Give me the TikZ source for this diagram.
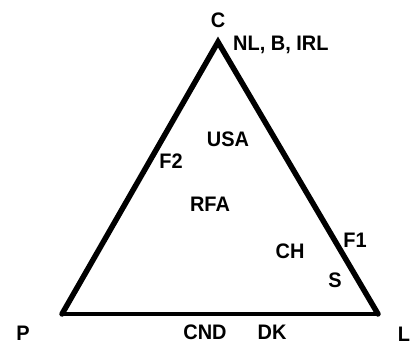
\documentclass[tikz,border=0pt]{standalone}
\usepackage{fontspec}
\setmainfont{Liberation Sans}[FakeStretch=0.95]
\begin{document}
\begin{tikzpicture}[x=1pt,y=-1pt,
  lbl/.style={inner sep=0pt,font=\fontsize{21}{21}\selectfont\bfseries},
  side/.style={line width=5.5pt,line join=miter,line cap=round},
  base/.style={line width=3.5pt,line cap=round}]
\useasboundingbox (0,0) rectangle (417,347);
\coordinate (Pc) at (62,314);
\coordinate (Lc) at (378,314);
\coordinate (Cc) at (218,42);
\draw[base] (Pc) -- (Lc);
\draw[side] (Pc) -- (Cc) -- (Lc);
\node[lbl] (C) at (218,20) {C};
\node[lbl,anchor=west] (nl) at (233,45) {NL, B, IRL};
\node[lbl] (usa) at (228,139) {USA};
\node[lbl] (f2) at (171,161) {F2};
\node[lbl] (rfa) at (210,204) {RFA};
\node[lbl] (f1) at (355,240) {F1};
\node[lbl] (ch) at (290,251) {CH};
\node[lbl] (s) at (335,280) {S};
\node[lbl] (P) at (23,333) {P};
\node[lbl] (cnd) at (205,332) {CND};
\node[lbl] (dk) at (272,332) {DK};
\node[lbl] (L) at (404,334) {L};
\end{tikzpicture}
\end{document}
